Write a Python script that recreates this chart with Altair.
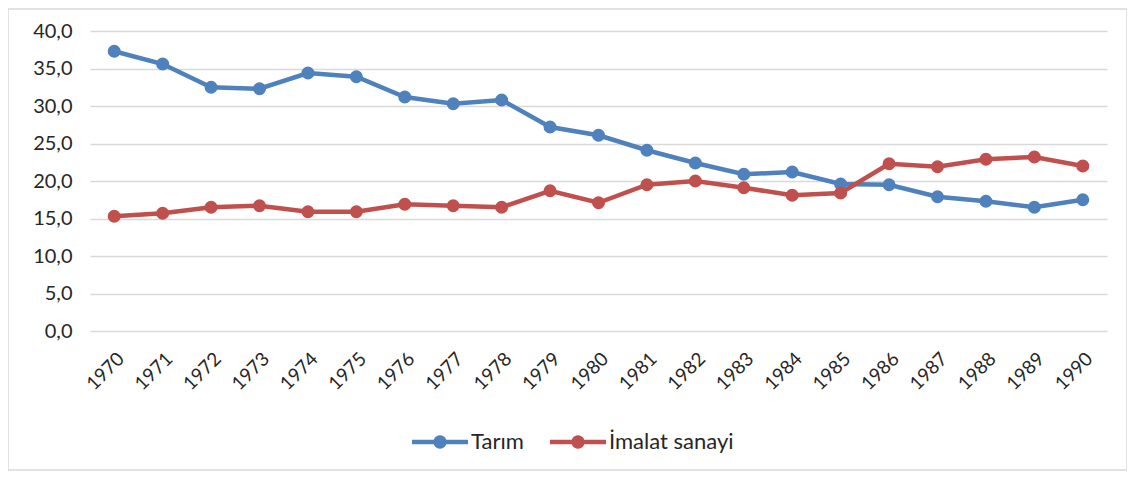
import math
import altair as alt
import pandas as pd

years = [str(y) for y in range(1970, 1991)]
tarim = [37.3, 35.6, 32.5, 32.3, 34.4, 33.9, 31.2, 30.3, 30.8, 27.2, 26.1,
         24.1, 22.4, 20.9, 21.2, 19.6, 19.5, 17.9, 17.3, 16.5, 17.5]
imalat = [15.3, 15.7, 16.5, 16.7, 15.9, 15.9, 16.9, 16.7, 16.5, 18.7, 17.1,
          19.5, 20.0, 19.1, 18.1, 18.4, 22.3, 21.9, 22.9, 23.2, 22.0]
series = ["Tarım", "İmalat sanayi"]
colors = ["#4F81BD", "#C0504D"]

df = pd.DataFrame({
    "year": years * 2,
    "value": tarim + imalat,
    "series": [series[0]] * len(years) + [series[1]] * len(years),
})

FONT = "Lato"
TXT = "#262626"

x = alt.X("year:O", sort=None, title=None,
          scale=alt.Scale(type="point", padding=0.5),
          axis=alt.Axis(labelAngle=-45, labelFontSize=19, labelFont=FONT,
                        labelColor=TXT, domain=False, ticks=False, grid=False,
                        labelPadding=18))
y = alt.Y("value:Q", title=None,
          scale=alt.Scale(domain=[0, 40], nice=False),
          axis=alt.Axis(values=[0, 5, 10, 15, 20, 25, 30, 35, 40],
                        labelExpr="replace(format(datum.value, '.1f'), '.', ',')",
                        labelFontSize=20, labelFont=FONT, labelColor=TXT,
                        domain=False, ticks=False, grid=True,
                        gridColor="#d9d9d9", gridWidth=1.5, labelPadding=18))

# legend symbol: line segment with a dot in the middle (unit square -1..1)
r, h = 0.24, 0.08
circ = " ".join(
    ("M" if i == 0 else "L") + f"{r*math.cos(2*math.pi*i/24):.3f},{r*math.sin(2*math.pi*i/24):.3f}"
    for i in range(24)
) + " Z"
legend_path = f"M-1,{-h} L1,{-h} L1,{h} L-1,{h} Z " + circ

legend = alt.Legend(title=None, orient="none", direction="horizontal",
                    legendX=322, legendY=383,
                    symbolType=legend_path, symbolSize=3136,
                    symbolStrokeWidth=0,
                    labelFontSize=22, labelFont=FONT, labelColor=TXT,
                    labelOffset=3, columnPadding=26)

border = alt.Chart(pd.DataFrame({"k": [0]})).mark_rect(
    filled=False, stroke="#d9d9d9", strokeWidth=1.5, clip=False
).encode(x=alt.value(-82), x2=alt.value(1037), y=alt.value(-22), y2=alt.value(439))

lines = alt.Chart(df).mark_line(strokeWidth=4.5).encode(
    x=x, y=y,
    color=alt.Color("series:N", scale=alt.Scale(domain=series, range=colors),
                    legend=legend),
)

points = alt.Chart(df).mark_point(filled=True, size=170, opacity=1).encode(
    x=x, y=y,
    fill=alt.Fill("series:N", scale=alt.Scale(domain=series, range=colors),
                  legend=legend),
)

chart = alt.layer(border, lines, points).properties(
    width=1017, height=300,
    autosize=alt.AutoSizeParams(type="none"),
    padding={"left": 82, "top": 23, "right": 20, "bottom": 141},
).configure(background="white").configure_view(stroke=None)

chart.save("out.html", embed_options={"renderer": "svg", "actions": False})
